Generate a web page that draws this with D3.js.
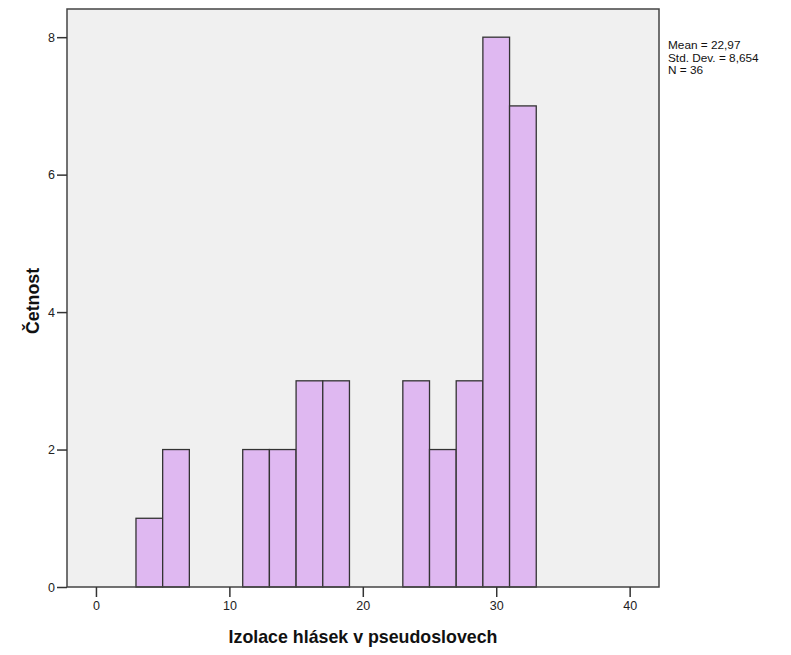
<!DOCTYPE html>
<html><head><meta charset="utf-8">
<script src="https://cdn.jsdelivr.net/npm/d3@7"></script>
<style>body{margin:0;background:#fff}svg{display:block}text{font-family:"Liberation Sans",Arial,sans-serif}</style>
</head><body>
<script>
const binStarts = [3,5,11,13,15,17,23,25,27,29,31];
const counts    = [1,2,2,2,3,3,3,2,3,8,7];
const binWidth = 2;
const xTicks = [0,10,20,30,40];
const yTicks = [0,2,4,6,8];
const stats = ["Mean = 22,97","Std. Dev. = 8,654","N = 36"];
const xTitle = "Izolace hlásek v pseudoslovech";
const yTitle = "Četnost";

const W=791,H=655;
const L=67,R=659,T=9,B=587;
const svg=d3.select("body").append("svg").attr("width",W).attr("height",H);
const x=d3.scaleLinear().domain([-2.17,42.2]).range([L,R]);
const y=d3.scaleLinear().domain([0,8.41]).range([B,T]);

svg.append("rect").attr("x",L).attr("y",T).attr("width",R-L).attr("height",B-T).attr("fill","#f0f0f0");

svg.append("g").selectAll("rect").data(binStarts).join("rect")
 .attr("x",d=>x(d)).attr("width",d=>x(d+binWidth)-x(d))
 .attr("y",(d,i)=>y(counts[i])).attr("height",(d,i)=>y(0)-y(counts[i]))
 .attr("fill","#dfb8f1").attr("stroke","#333").attr("stroke-width",1.3);

svg.append("rect").attr("x",L).attr("y",T).attr("width",R-L).attr("height",B-T).attr("fill","none").attr("stroke","#444").attr("stroke-width",1.5);

const xa=svg.append("g").attr("transform",`translate(0,${B})`).call(d3.axisBottom(x).tickValues(xTicks).tickSize(10).tickSizeOuter(0).tickPadding(4));
xa.select(".domain").remove();
const ya=svg.append("g").attr("transform",`translate(${L},0)`).call(d3.axisLeft(y).tickValues(yTicks).tickSize(10).tickSizeOuter(0).tickPadding(2));
ya.select(".domain").remove();
[xa,ya].forEach(a=>{a.selectAll("line").attr("stroke","#333").attr("stroke-width",1.5);a.selectAll("text").attr("fill","#222").style("font-size","12.5px").style("font-family","Liberation Sans, Arial, sans-serif");});

svg.append("text").attr("x",363).attr("y",643).attr("text-anchor","middle").style("font-size","17.8px").style("font-weight","bold").attr("fill","#111").text(xTitle);
svg.append("text").attr("transform","translate(39,301) rotate(-90)").attr("text-anchor","middle").style("font-size","17.8px").style("font-weight","bold").attr("fill","#111").text(yTitle);

svg.append("g").selectAll("text").data(stats).join("text").attr("x",668).attr("y",(d,i)=>49+i*12.5).style("font-size","11.8px").attr("fill","#111").text(d=>d);
</script>
</body></html>
